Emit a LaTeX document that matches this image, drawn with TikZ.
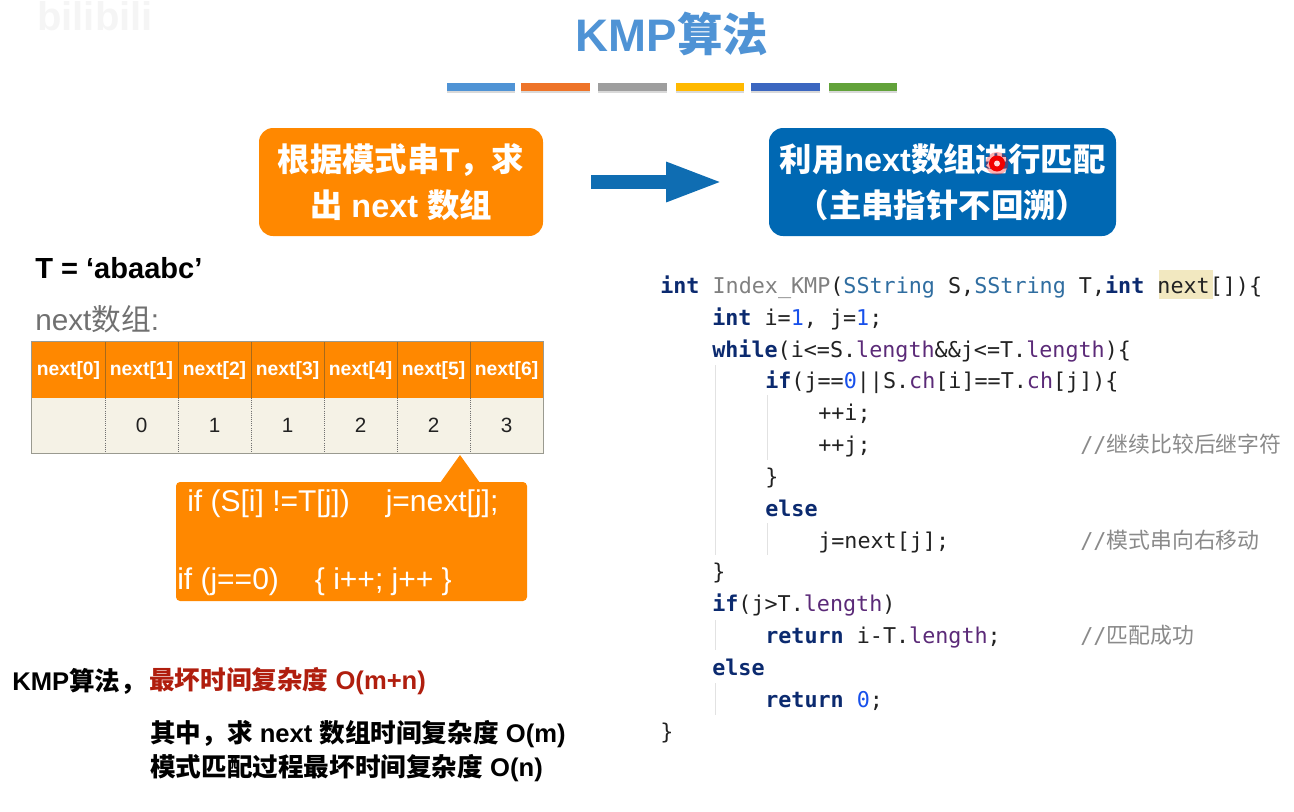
\documentclass[tikz,border=0pt]{standalone}
\usepackage{fontspec}
\usepackage{xcolor}
\setmainfont{Liberation Sans}
\setmonofont{DejaVu Sans Mono}
\newfontfamily\cjk{Noto Sans CJK SC}
\usetikzlibrary{positioning, arrows.meta, shadows}
\definecolor{nTitle}{HTML}{4F93D5}
\definecolor{nOrange}{HTML}{FF8800}
\definecolor{nBlue}{HTML}{0068B3}
\definecolor{nArrow}{HTML}{0F6DB2}
\definecolor{nCell}{HTML}{F5F2E6}
\definecolor{nRule}{HTML}{9A9A90}
\definecolor{nSplit}{HTML}{A86A1A}
\definecolor{nRed}{HTML}{B01E0E}
\definecolor{nGray}{HTML}{707070}
\definecolor{kwInk}{HTML}{0B2A6F}
\definecolor{fnInk}{HTML}{808080}
\definecolor{tyInk}{HTML}{2F6DA0}
\definecolor{numInk}{HTML}{1750EB}
\definecolor{fldInk}{HTML}{5B2A78}
\definecolor{txtInk}{HTML}{222222}
\definecolor{cmtInk}{HTML}{8A8A8A}
\definecolor{markBg}{HTML}{F2E8C0}
\definecolor{guideInk}{HTML}{E2E2E2}
\newcommand{\zh}[1]{{\cjk #1}}
\newcommand{\kw}[1]{\textcolor{kwInk}{\bfseries #1}}
\newcommand{\ty}[1]{\textcolor{tyInk}{#1}}
\newcommand{\nm}[1]{\textcolor{numInk}{#1}}
\newcommand{\fld}[1]{\textcolor{fldInk}{#1}}
\tikzset{
  bigbox/.style={rounded corners=10.5pt, text=white, minimum width=#1, minimum height=81pt,
    inner sep=0pt, align=center, font=\fontsize{24.3}{34.5}\selectfont\bfseries},
  bar/.style={minimum width=51.5pt, minimum height=6.5pt, inner sep=0pt,
    drop shadow={shadow xshift=0pt, shadow yshift=-1.5pt, opacity=0.3}},
  headcell/.style={fill=nOrange, text=white, minimum width=54.75pt, minimum height=42pt,
    inner sep=0pt, font=\fontsize{14.5}{16}\selectfont\bfseries},
  datacell/.style={fill=nCell, text=txtInk, minimum width=54.75pt, minimum height=41.25pt,
    inner sep=0pt, font=\fontsize{15.5}{17}\selectfont},
  codeline/.style={anchor=west, inner sep=0pt, text=txtInk, text height=13pt, text depth=3.5pt,
    font=\fontsize{16.3}{20}\ttfamily},
  cmtline/.style={codeline, text=cmtInk, font=\fontsize{16.4}{20}\ttfamily},
  calltext/.style={anchor=west, inner sep=0pt, text=white, font=\fontsize{22.5}{26}\selectfont},
  sumtext/.style={anchor=west, inner sep=0pt, font=\fontsize{19.2}{23}\selectfont\bfseries},
  guide/.style={guideInk, line width=0.75pt}
}
\begin{document}
\begin{tikzpicture}[x=0.75pt, y=-0.75pt, >=Stealth]
      \useasboundingbox (0,0) rectangle (1294,811);
      \node[inner sep=0pt, text=black!4, font=\fontsize{30}{30}\selectfont\bfseries] (mark) at (95,16) {bilibili};
      \node[text=nTitle, font=\fontsize{34.2}{38}\selectfont\bfseries] (title) at (672,34) {KMP\zh{算法}};
      \foreach \x/\c [count=\n] in {481/4F93D5, 555.5/EE7429, 632.5/9E9E9E, 710/FFB900, 785.5/3B66C0, 863/62A23A} {
        \definecolor{barInk}{HTML}{\c}
        \node[bar, fill=barInk] (bar\n) at (\x,87) {};
      }

      \node[bigbox=213pt, fill=nOrange] (rule) at (401,182) {\zh{根据模式串}T\zh{，求}\\\zh{出} next \zh{数组}};
      \node[bigbox=260.25pt, fill=nBlue] (match) at (942.5,182) {\zh{利用}next\zh{数组进行匹配}\\\zh{（主串指针不回溯）}};
      \draw[-{Triangle[length=43pt, width=27pt]}, nArrow, line width=10.5pt, shorten <=36pt, shorten >=34pt] (rule) -- (match);
      \fill[red, opacity=0.3] (997,163.5) circle (11.5);
      \fill[red!95!black] (997,163.5) circle (8);
      \fill[red!15] (997,163.5) circle (3);

      \node[anchor=west, inner sep=0pt, font=\fontsize{21.8}{25}\selectfont\bfseries] (pat) at (35,268) {T = ‘abaabc’};
      \node[anchor=west, inner sep=0pt, text=nGray, font=\fontsize{22.3}{26}\selectfont] (nxt) at (35,319) {next\zh{数组}:};

      \foreach \v [count=\n from 0] in {, 0, 1, 1, 2, 2, 3} {
        \node[headcell] (head\n) at (68.5+73*\n,370) {\raisebox{-1pt}{next[\n]}};
        \node[datacell] (cell\n) at (68.5+73*\n,425.5) {\v};
      }
      \foreach \n in {0,...,5} {
        \draw[nSplit, line width=0.6pt] (head\n.north east) -- (head\n.south east);
        \draw[nGray, densely dotted, line width=0.6pt] (cell\n.north east) -- (cell\n.south east);
      }
      \draw[nRule, line width=0.75pt] (head0.north west) rectangle (cell6.south east);

      \node[fill=nOrange, rounded corners=3pt, minimum width=263.25pt, minimum height=89.25pt, inner sep=0pt] (tip) at (351.5,541.5) {};
      \fill[nOrange] (440,483) -- (460,455) -- (480,483) -- cycle;
      \node[calltext] (tipa) at (187,504) {if (S[i] !=T[j])\hspace{27pt}j=next[j];};
      \node[calltext] (tipb) at (177,582) {if (j==0)\hspace{27pt}\{ i++; j++ \}};

      \node[sumtext] (suma) at (12,681) {KMP\zh{算法，}};
      \node[sumtext, text=nRed] (sumb) at (149,681) {\zh{最坏时间复杂度} O(m+n)};
      \node[sumtext] (sumc) at (150,734) {\zh{其中，求} next \zh{数组时间复杂度} O(m)};
      \node[sumtext] (sumd) at (150,768) {\zh{模式匹配过程最坏时间复杂度} O(n)};

      \fill[markBg] (1159,270) rectangle (1213,299);
      \draw[guide] (715,365) -- (715,555);
      \draw[guide] (767,395) -- (767,460);
      \draw[guide] (767,523) -- (767,555);
      \draw[guide] (715,620) -- (715,650);
      \draw[guide] (715,683) -- (715,715);
      \foreach \x/\t [count=\n] in {
        660/{\kw{int} \textcolor{fnInk}{Index\_KMP}(\ty{SString} S,\ty{SString} T,\kw{int} next[])\{},
        712/{\kw{int} i=\nm{1}, j=\nm{1};},
        712/{\kw{while}(i<=S.\fld{length}\&\&j<=T.\fld{length})\{},
        765/{\kw{if}(j==\nm{0}||S.\fld{ch}[i]==T.\fld{ch}[j])\{},
        818/{++i;},
        818/{++j;},
        765/{\}},
        765/{\kw{else}},
        818/{j=next[j];},
        712/{\}},
        712/{\kw{if}(j>T.\fld{length})},
        765/{\kw{return} i-T.\fld{length};},
        712/{\kw{else}},
        765/{\kw{return} \nm{0};},
        660/{\}}} {
        \node[codeline] (ln\n) at (\x,287+31.85*\n-31.85) {\t};
      }
      \node[cmtline] (cmta) at (1080,446) {//\zh{继续比较后继字符}};
      \node[cmtline] (cmtb) at (1080,542) {//\zh{模式串向右移动}};
      \node[cmtline] (cmtc) at (1080,637) {//\zh{匹配成功}};
    \end{tikzpicture}
\end{document}
